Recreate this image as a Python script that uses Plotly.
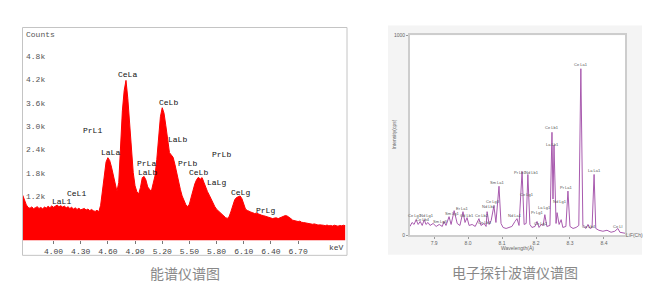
import numpy as np
import plotly.graph_objects as go

W, H = 672, 300

# ---------------- EDS spectrum (left) ----------------
eds_start_kev = 3.66
eds_step_kev = 0.02
eds_counts = [
    1240, 1120, 990, 925, 905, 940, 895, 920, 945, 900,
    925, 890, 935, 910, 955, 920, 965, 930, 960, 985,
    945, 970, 935, 960, 915, 945, 900, 930, 885, 915,
    875, 905, 865, 890, 900, 860, 885, 845, 875, 840,
    825, 855, 815, 980, 1350, 1780, 2090, 2200, 2130, 1960,
    1720, 1490, 1340, 1560, 2550, 3400, 3920, 4180, 3720, 3120,
    2580, 1820, 1480, 1330, 1270, 1440, 1690, 1720, 1630, 1450,
    1390, 1340, 1540, 1730, 2150, 2820, 3250, 3480, 3340, 3020,
    2620, 2330, 2270, 2210, 2030, 1790, 1580, 1390, 1220, 1090,
    1000, 945, 1010, 1190, 1390, 1530, 1640, 1700, 1650, 1690,
    1570, 1430, 1330, 1240, 1140, 1020, 950, 880, 835, 790,
    740, 700, 665, 645, 700, 830, 1000, 1120, 1180, 1210,
    1220, 1150, 1010, 880, 850, 820, 805, 790, 770, 780,
    755, 740, 725, 715, 700, 690, 665, 650, 640, 655,
    660, 640, 665, 680, 700, 720, 705, 680, 640, 600,
    590, 580, 565, 575, 545, 540, 530, 520, 510, 500,
    495, 505, 485, 475, 480, 465, 470, 460, 475, 455,
    465, 450, 470, 460, 445, 465, 455, 470, 460,
]
eds_kev = np.round(eds_start_kev + eds_step_kev * np.arange(len(eds_counts)), 3)

eds_ticks = [4.00, 4.30, 4.60, 4.90, 5.20, 5.50, 5.80, 6.10, 6.40, 6.70]
eds_count_ticks = [1200, 1800, 2400, 3000, 3600, 4200, 4800, 5360]
eds_count_text = ["1.2k", "1.8k", "2.4k", "3.0k", "3.6k", "4.2k", "4.8k", "Counts"]

eds_label_text = ["CeLa", "CeLb", "PrL1", "LaLb", "LaLa", "PrLa", "LaLb", "CeL1",
                  "LaL1", "PrLb", "PrLb", "CeLb", "LaLg", "CeLg", "PrLg"]
eds_label_kev = [4.817, 5.264, 4.431, 5.374, 4.624, 5.027, 5.038, 4.259,
                 4.083, 5.855, 5.479, 5.606, 5.794, 6.059, 6.335]
eds_label_cnt = [4330, 3602, 2899, 2673, 2322, 2046, 1832, 1293,
                 1067, 2272, 2046, 1820, 1569, 1318, 841]

# ---------------- WDS spectrum (right) ----------------
wds_pos = [
    7.829, 7.835, 7.841, 7.847, 7.853, 7.859, 7.865, 7.871, 7.876, 7.882,
    7.888, 7.897, 7.906, 7.915, 7.924, 7.929, 7.935, 7.944, 7.950, 7.959,
    7.968, 7.976, 7.985, 7.991, 7.997, 8.003, 8.012, 8.021, 8.032, 8.038,
    8.047, 8.053, 8.056, 8.062, 8.068, 8.076, 8.082, 8.091, 8.097, 8.103,
    8.112, 8.121, 8.129, 8.138, 8.144, 8.150, 8.159, 8.165, 8.171, 8.176,
    8.182, 8.188, 8.197, 8.203, 8.209, 8.215, 8.221, 8.226, 8.232, 8.241,
    8.247, 8.250, 8.253, 8.259, 8.262, 8.268, 8.274, 8.279, 8.288, 8.294,
    8.300, 8.309, 8.318, 8.326, 8.332, 8.338, 8.347, 8.353, 8.359, 8.365,
    8.371, 8.376, 8.385, 8.397, 8.409, 8.421, 8.432, 8.441, 8.447, 8.462,
]
wds_int = [
    44, 64, 54, 78, 54, 69, 49, 78, 54, 64,
    49, 59, 44, 54, 44, 69, 49, 93, 54, 123,
    59, 49, 118, 64, 88, 49, 54, 44, 83, 49,
    59, 44, 118, 54, 74, 147, 64, 245, 59, 39,
    34, 39, 44, 69, 83, 49, 319, 54, 59, 304,
    54, 39, 44, 69, 39, 54, 49, 103, 44, 49,
    515, 181, 451, 59, 113, 54, 78, 39, 44, 221,
    44, 34, 39, 49, 833, 49, 34, 54, 34, 39,
    304, 34, 25, 20, 25, 15, 20, 34, 15, 10,
]

wds_ticks = [7.9, 8.0, 8.1, 8.2, 8.3, 8.4]
wds_label_text = ["Ce La1", "Ce Lb1", "La Lb1", "Pr Lb1", "Nd Lb1", "Ce Lg1",
                  "Pr Lg1", "La Lg1", "Ce Lg2", "Nd Lg1", "Pr La1", "Ce Lb4",
                  "La La1", "Ce Ll", "Ce Lg1", "Nd Lg1", "Ce Lb4", "Sm Lg3",
                  "Sm Lg1", "Er La1", "Gd Lb1", "Ce Lb2", "Ce Lb3", "Nd Lb2",
                  "Ce Lg3", "Sm La1", "Nd La1"]
wds_label_pos = [8.332, 8.247, 8.250, 8.153, 8.188, 8.174,
                 8.203, 8.226, 8.215, 8.271, 8.291, 8.356,
                 8.371, 8.441, 7.844, 7.879, 7.868, 7.918,
                 7.953, 7.984, 7.997, 8.041, 8.050, 8.062,
                 8.074, 8.088, 8.138]
wds_label_int = [853, 539, 456, 314, 314, 206,
                 113, 137, 59, 167, 240, 44,
                 324, 44, 98, 98, 78, 69,
                 110, 132, 98, 98, 64, 142,
                 167, 265, 98]

captions = ["能谱仪谱图", "电子探针波谱仪谱图"]


def px(x):
    return x / W


def py(y):
    return 1 - y / H


mono = "Liberation Mono"
sans = "Liberation Sans"

fig = go.Figure()

fig.add_trace(go.Scatter(
    x=eds_kev, y=eds_counts, mode="lines",
    line=dict(color="#ff0000", width=1, shape="linear"),
    fill="tozeroy", fillcolor="#ff0000",
    xaxis="x", yaxis="y", hoverinfo="skip", showlegend=False,
))

fig.add_trace(go.Scatter(
    x=wds_pos, y=wds_int, mode="lines",
    line=dict(color="#a85aae", width=1),
    xaxis="x2", yaxis="y2", hoverinfo="skip", showlegend=False,
))


def paper_text(x, y, text, size, color, family, angle=0, xanchor="center"):
    return dict(x=px(x), y=py(y), xref="paper", yref="paper", text=text,
                showarrow=False, xanchor=xanchor, yanchor="middle", textangle=angle,
                font=dict(family=family, size=size, color=color))


annotations = []
# peak names on the EDS spectrum
for t, xv, yv in zip(eds_label_text, eds_label_kev, eds_label_cnt):
    annotations.append(dict(x=xv, y=yv, xref="x", yref="y", text=t, showarrow=False,
                            xanchor="center", yanchor="middle",
                            font=dict(family=mono, size=8, color="#111111")))
# count scale drawn inside the EDS plot, left aligned
for v, t in zip(eds_count_ticks, eds_count_text):
    annotations.append(dict(x=px(24), y=v, xref="paper", yref="y", text=t, showarrow=False,
                            xanchor="left", yanchor="middle",
                            font=dict(family=mono, size=8, color="#555555")))
annotations.append(paper_text(336, 249, "keV", 8, "#444444", mono))

# peak names on the WDS spectrum
for t, xv, yv in zip(wds_label_text, wds_label_pos, wds_label_int):
    annotations.append(dict(x=xv, y=yv, xref="x2", yref="y2", text=t, showarrow=False,
                            xanchor="center", yanchor="middle",
                            font=dict(family=sans, size=4, color="#555555")))
annotations += [
    paper_text(517, 250, "Wavelength(Å)", 5, "#666666", sans),
    paper_text(634, 237, "LiF(Ch)", 5, "#666666", sans),
    paper_text(394, 134, "Intensity(cps)", 5, "#666666", sans, angle=-90),
    paper_text(185, 276, captions[0], 14, "#888888", "Noto Sans CJK SC"),
    paper_text(515, 274, captions[1], 14, "#888888", "Noto Sans CJK SC"),
]

shapes = [
    # grey backdrop behind the WDS plot
    dict(type="rect", xref="paper", yref="paper", x0=px(388), x1=px(642),
         y0=py(257), y1=py(23), fillcolor="#f4f4f4", line=dict(width=0), layer="below"),
    dict(type="rect", xref="paper", yref="paper", x0=px(410), x1=px(625),
         y0=py(237), y1=py(33), fillcolor="#ffffff", line=dict(width=0), layer="below"),
    # frame around the EDS panel
    dict(type="rect", xref="paper", yref="paper", x0=px(22.5), x1=px(347),
         y0=py(257.5), y1=py(25), line=dict(color="#c4c4c4", width=1),
         fillcolor="rgba(0,0,0,0)", layer="above"),
]

fig.update_layout(
    width=W, height=H,
    margin=dict(l=0, r=0, t=0, b=0),
    paper_bgcolor="#ffffff", plot_bgcolor="rgba(0,0,0,0)",
    showlegend=False,
    xaxis=dict(domain=[px(23), px(346)], range=[3.663, 7.229], anchor="y",
               tickvals=eds_ticks, ticktext=[f"{v:.2f}" for v in eds_ticks],
               ticks="outside", ticklen=3, tickcolor="#777777",
               tickfont=dict(family=mono, size=8, color="#444444"),
               showgrid=False, zeroline=False, showline=False),
    yaxis=dict(domain=[py(242), py(25)], range=[88, 5535], anchor="x",
               showticklabels=False, ticks="",
               showgrid=False, zeroline=False, showline=False),
    xaxis2=dict(domain=[px(410), px(625)], range=[7.829, 8.462], anchor="y2",
                tickvals=wds_ticks, ticktext=[f"{v:.1f}" for v in wds_ticks],
                ticks="outside", ticklen=2, tickcolor="#999999",
                tickfont=dict(family=sans, size=5, color="#666666"),
                showgrid=False, zeroline=False,
                showline=True, mirror=True, linecolor="#cdcdcd", linewidth=2),
    yaxis2=dict(domain=[py(237), py(33)], range=[0, 1000], anchor="x2",
                tickvals=[0, 1000], ticktext=["0", "1000"],
                ticks="outside", ticklen=2, tickcolor="#999999",
                tickfont=dict(family=sans, size=5, color="#666666"),
                showgrid=False, zeroline=False,
                showline=True, mirror=True, linecolor="#cdcdcd", linewidth=2),
    annotations=annotations,
    shapes=shapes,
)

fig.write_html("out.html")
